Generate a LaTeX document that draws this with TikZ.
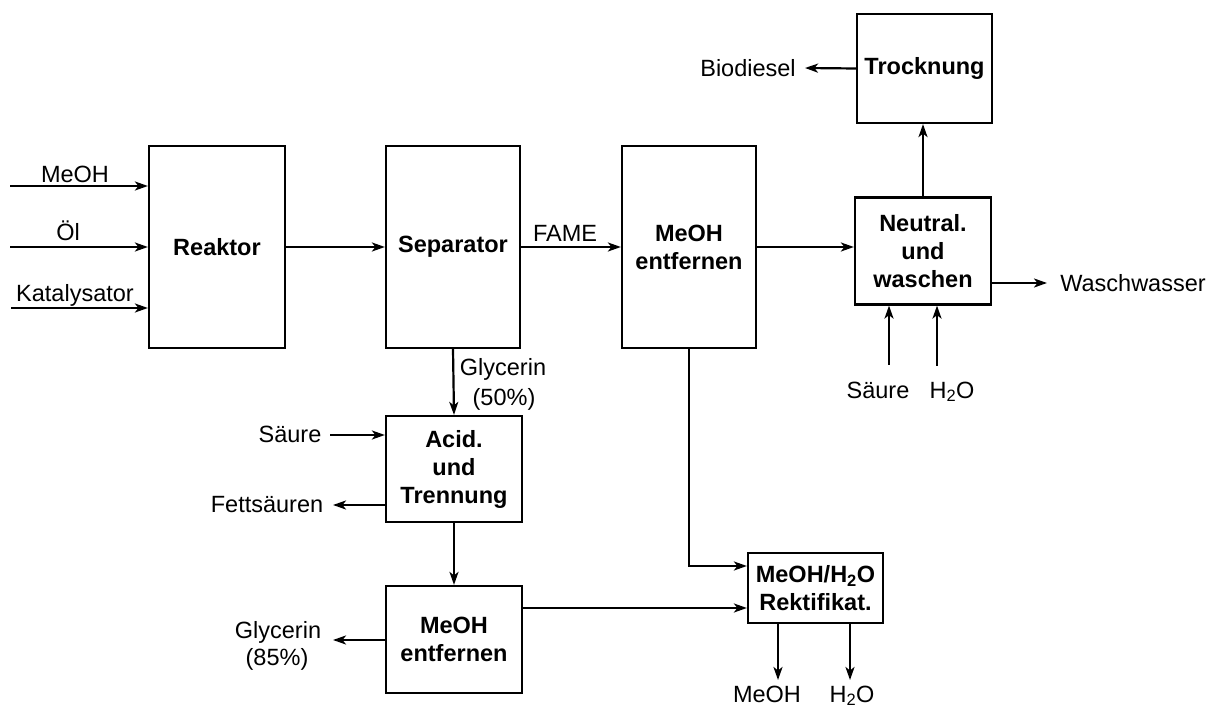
\documentclass[tikz,border=0pt]{standalone}
\usepackage{fontspec}
\setmainfont{Liberation Sans}
\usetikzlibrary{arrows.meta}
\begin{document}
\begin{tikzpicture}[x=1pt,y=-1pt,
  every node/.style={font=\fontsize{23.5}{28}\selectfont},
  box/.style={draw,line width=2.2pt,inner sep=0pt,align=center,font=\fontsize{23.5}{28}\selectfont\bfseries},
  lbl/.style={inner sep=0pt,anchor=base,align=center},
  conn/.style={line width=2.2pt},
  arr/.style={conn,-{Stealth[length=13pt,width=9pt,inset=3.5pt]}}]
\useasboundingbox (0,0) rectangle (1215,708);
% boxes
\node[box,minimum width=136pt,minimum height=202pt] (reak) at (217,247) {Reaktor};
\node[box,minimum width=134pt,minimum height=202pt] (sep) at (453,247) {Separator};
\node[box,minimum width=134pt,minimum height=202pt] (meoh1) at (689,247) {MeOH\\entfernen};
\node[box,minimum width=136pt,minimum height=107pt] (neut) at (923,251) {Neutral.\\und\\waschen};
\node[box,minimum width=135pt,minimum height=109pt] (trock) at (924.5,68.5) {Trocknung};
\node[box,minimum width=136pt,minimum height=106pt] (acid) at (454,469) {Acid.\\und\\Trennung};
\node[box,minimum width=136pt,minimum height=107pt] (meoh2) at (454,639.5) {MeOH\\entfernen};
\node[box,minimum width=135pt,minimum height=70pt] (rekt) at (815.5,588) {MeOH/H\textsubscript{2}O\\Rektifikat.};
% free ends
\coordinate (inA) at (10,186);
\coordinate (inB) at (10,247);
\coordinate (inC) at (11,308);
\coordinate (bio) at (805,68);
\coordinate (wasch) at (1047,283);
\coordinate (saeR) at (889,365);
\coordinate (wasR) at (937,366);
\coordinate (saeL) at (330,435);
\coordinate (fett) at (333,505);
\coordinate (gly85) at (333,640);
\coordinate (outM) at (778,680);
\coordinate (outW) at (850,680);
% connectors
\draw[arr] (inA) -- (inA -| reak.west);
\draw[arr] (inB) -- (inB -| reak.west);
\draw[arr] (inC) -- (inC -| reak.west);
\draw[arr] (reak.east) -- (sep.west);
\draw[arr] (sep.east) -- (meoh1.west);
\draw[arr] (meoh1.east) -- (meoh1.east -| neut.west);
\draw[arr] (neut.north) -- (neut.north |- trock.south);
\draw[arr] (trock.west) -- (bio);
\draw[arr] (wasch -| neut.east) -- (wasch);
\draw[arr] (saeR) -- (saeR |- neut.south);
\draw[arr] (wasR) -- (wasR |- neut.south);
\draw[arr] (sep.south) -- (acid.north);
\draw[arr] (saeL) -- (saeL -| acid.west);
\draw[arr] (fett -| acid.west) -- (fett);
\draw[arr] (acid.south) -- (meoh2.north);
\draw[arr] (gly85 -| meoh2.west) -- (gly85);
\draw[arr] ([yshift=31.5pt]meoh2.east) -- ([yshift=31.5pt]meoh2.east -| rekt.west);
\draw[arr] (meoh1.south) |- ([yshift=22pt]rekt.west);
\draw[arr] (outM |- rekt.south) -- (outM);
\draw[arr] (outW |- rekt.south) -- (outW);
% labels
\node[lbl] (tA) at (75,183) {MeOH};
\node[lbl] (tB) at (68,241) {Öl};
\node[lbl] (tC) at (75,302) {Katalysator};
\node[lbl] (tF) at (565,242) {FAME};
\node[lbl] (tBio) at (748,77) {Biodiesel};
\node[lbl] (tW) at (1133,292) {Waschwasser};
\node[lbl] (tSR) at (878,398) {Säure};
\node[lbl] (tWR) at (952,398) {H\textsubscript{2}O};
\node[lbl] (tG1) at (503,376) {Glycerin};
\node[lbl] (tG2) at (504,405) {(50\%)};
\node[lbl] (tSL) at (290,442) {Säure};
\node[lbl] (tFS) at (267,512) {Fettsäuren};
\node[lbl] (tG3) at (278,638) {Glycerin};
\node[lbl] (tG4) at (277,665) {(85\%)};
\node[lbl] (tM) at (767,702) {MeOH};
\node[lbl] (tWB) at (852,702) {H\textsubscript{2}O};
\end{tikzpicture}
\end{document}
